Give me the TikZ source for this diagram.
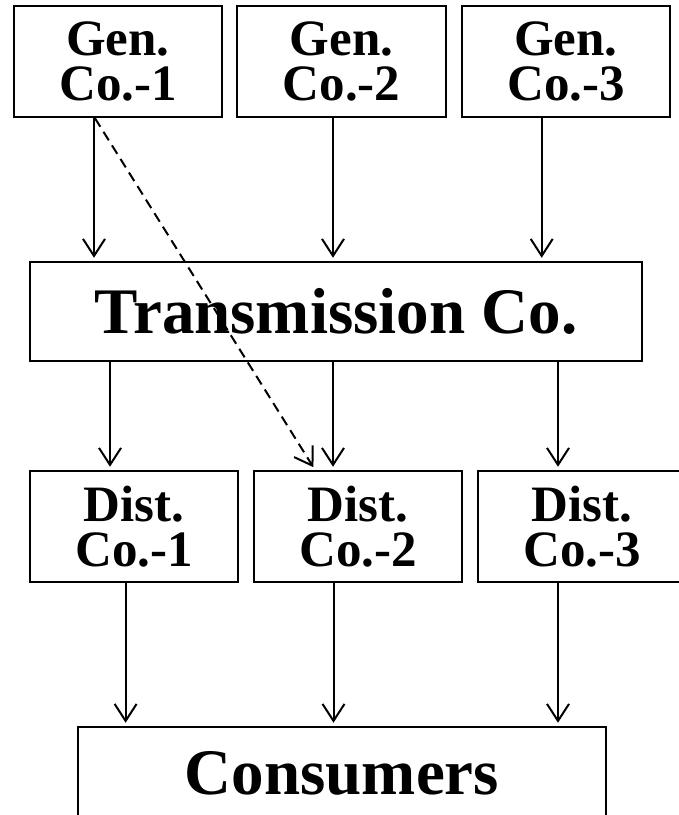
\documentclass[tikz,border=0pt]{standalone}
\usepackage{fontspec}
\setmainfont{Liberation Serif}
\usetikzlibrary{arrows.meta}
\begin{document}
\begin{tikzpicture}[x=1pt,y=-1pt,
  box/.style={draw=black,line width=2.5pt,fill=white,inner sep=0pt,align=center,font=\bfseries\fontsize{51}{45}\selectfont},
  smallbox/.style={box,minimum width=208pt,minimum height=111pt},
  bigbox/.style={draw=black,line width=2.5pt,fill=white,inner sep=0pt,font=\bfseries\fontsize{65}{70}\selectfont},
  arr/.style={line width=2pt,-{Straight Barb[length=17pt,width=22pt,line width=2pt]},shorten >=3pt},
  dasharr/.style={arr,dash pattern=on 10pt off 6pt}]
\useasboundingbox (0,0) rectangle (679,815);
\fill[white] (0,0) rectangle (679,815);
\clip (0,0) rectangle (679,815);
% Generation companies
\node[smallbox] (gen1) at (118,61.5) {Gen.\\Co.-1};
\node[smallbox,minimum width=209pt] (gen2) at (341.5,61.5) {Gen.\\Co.-2};
\node[smallbox] (gen3) at (566,61.5) {Gen.\\Co.-3};
% Transmission
\node[bigbox,minimum width=612pt,minimum height=99pt] (trans) at (336,311.5) {Transmission Co.};
% Distribution companies
\node[smallbox] (dist1) at (134,526.5) {Dist.\\Co.-1};
\node[smallbox] (dist2) at (358,526.5) {Dist.\\Co.-2};
\node[smallbox] (dist3) at (582,526.5) {Dist.\\Co.-3};
% Consumers
\node[bigbox,minimum width=528pt,minimum height=92pt] (cons) at (342,773) {Consumers};
% Gen -> Transmission
\draw[arr] ([xshift=-24pt]gen1.south) -- ([xshift=-24pt]gen1.south |- trans.north);
\draw[arr] ([xshift=-8.5pt]gen2.south) -- ([xshift=-8.5pt]gen2.south |- trans.north);
\draw[arr] ([xshift=-24.3pt]gen3.south) -- ([xshift=-24.3pt]gen3.south |- trans.north);
% Transmission -> Dist
\draw[arr] ([xshift=-24pt]dist1.north |- trans.south) -- ([xshift=-24pt]dist1.north);
\draw[arr] ([xshift=-25pt]dist2.north |- trans.south) -- ([xshift=-25pt]dist2.north);
\draw[arr] ([xshift=-24pt]dist3.north |- trans.south) -- ([xshift=-24pt]dist3.north);
% Dist -> Consumers
\draw[arr] ([xshift=-8.4pt]dist1.south) -- ([xshift=-8.4pt]dist1.south |- cons.north);
\draw[arr] ([xshift=-24.5pt]dist2.south) -- ([xshift=-24.5pt]dist2.south |- cons.north);
\draw[arr] ([xshift=-24pt]dist3.south) -- ([xshift=-24pt]dist3.south |- cons.north);
% Direct contract
\draw[dasharr] ([xshift=-23pt]gen1.south) -- ([xshift=-43pt]dist2.north);
\end{tikzpicture}
\end{document}
